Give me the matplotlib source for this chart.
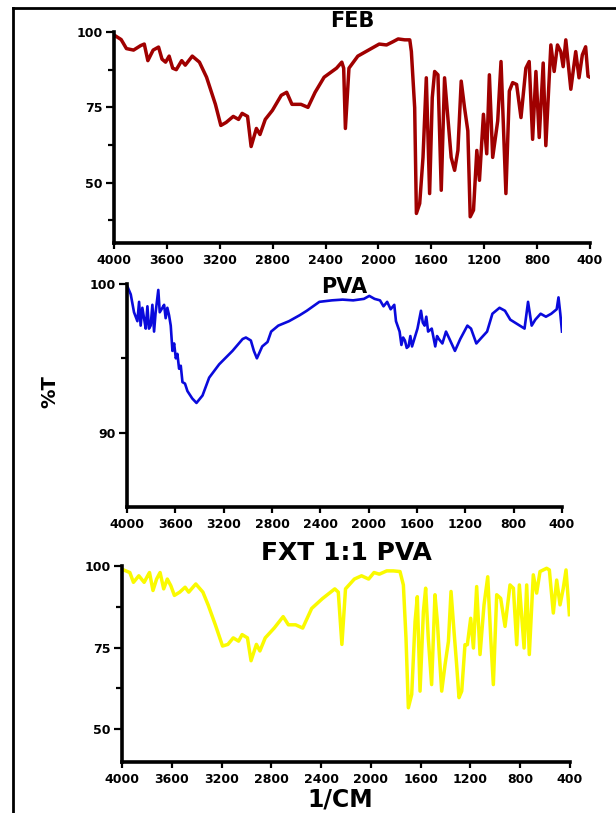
import matplotlib
matplotlib.use("Agg")
import matplotlib.pyplot as plt
from matplotlib.lines import Line2D

# ---------------- data ----------------
feb_wn = [4000, 3946, 3906, 3852, 3798, 3771, 3744, 3704, 3663, 3637, 3610, 3583, 3556, 3529,
          3488, 3461, 3408, 3354, 3300, 3233, 3192, 3152, 3098, 3058, 3031, 2990, 2963, 2923,
          2896, 2856, 2802, 2735, 2694, 2654, 2586, 2533, 2479, 2411, 2317, 2277, 2263, 2250,
          2223, 2156, 2075, 1994, 1939, 1889, 1851, 1801, 1763, 1751, 1726, 1713, 1688, 1663,
          1638, 1613, 1593, 1575, 1550, 1525, 1500, 1475, 1450, 1424, 1399, 1374, 1349, 1324,
          1306, 1281, 1256, 1236, 1206, 1181, 1161, 1136, 1098, 1073, 1036, 1010, 985, 955,
          922, 885, 860, 834, 809, 784, 754, 734, 696, 671, 646, 621, 603, 583, 545, 508,
          483, 458, 433, 415, 400]
feb_t = [99, 97.5, 94.5, 94, 95.5, 96, 90.5, 94, 95, 91, 90, 92, 88, 87.5,
         90.5, 89, 92, 90, 85, 76, 69, 70, 72, 71, 73, 72, 62, 68,
         66, 71, 74, 79, 80, 76, 76, 75, 80, 85, 88, 90, 88, 68,
         88, 92, 94, 96, 95.7, 96.8, 97.7, 97.4, 97.4, 93.5, 74.9, 39.8, 43.1, 58.4,
         84.8, 46.4, 78.2, 86.9, 85.8, 47.5, 84.8, 71.6, 58.4, 54.1, 60.7, 83.7, 74.9, 67.2,
         38.7, 40.9, 60.7, 50.8, 72.7, 59.6, 85.8, 58.4, 70.5, 90.2, 46.4, 80.4, 83.2, 82.6,
         71.6, 88.0, 90.2, 64.4, 86.9, 65.0, 89.7, 62.3, 95.7, 86.9, 95.7, 93.5, 88.5, 97.4, 81.0, 93.5,
         84.8, 92.4, 95.1, 85.3, 85]

pva_wn = [4000, 3969, 3942, 3914, 3900, 3887, 3873, 3859, 3845, 3831, 3818, 3804, 3790, 3776,
          3763, 3741, 3729, 3707, 3693, 3680, 3666, 3652, 3638, 3624, 3610, 3596, 3583, 3569,
          3555, 3541, 3520, 3500, 3460, 3425, 3375, 3320, 3237, 3127, 3043, 3016, 2975, 2950,
          2925, 2881, 2837, 2807, 2748, 2659, 2571, 2512, 2408, 2305, 2216, 2128, 2039, 1995,
          1951, 1906, 1877, 1847, 1818, 1788, 1774, 1744, 1729, 1715, 1700, 1685, 1670, 1655,
          1641, 1626, 1596, 1567, 1552, 1537, 1523, 1508, 1478, 1449, 1434, 1419, 1390, 1360,
          1331, 1286, 1242, 1183, 1153, 1109, 1065, 1020, 976, 917, 872, 828, 769, 710, 681,
          651, 621, 577, 533, 489, 444, 429, 414, 400]
pva_t = [99.9, 99.3, 98.1, 97.5, 98.8, 97.2, 98.4, 97.7, 97.0, 98.5, 97.0, 97.2, 98.6, 96.8,
         98.1, 99.6, 98.1, 98.4, 98.6, 97.7, 98.4, 97.9, 97.2, 95.5, 96.0, 95.0, 95.3, 94.3,
         94.5, 93.4, 93.3, 92.8, 92.3, 92.0, 92.5, 93.7, 94.6, 95.5, 96.3, 96.4, 96.2, 95.5,
         95.0, 95.8, 96.1, 96.8, 97.2, 97.5, 97.9, 98.2, 98.8, 98.9, 98.95, 98.9, 99.0, 99.2,
         99.0, 98.9, 98.5, 98.8, 98.3, 98.6, 97.5, 96.8, 95.9, 96.4, 96.2, 95.7, 95.8, 96.5,
         95.8, 96.2, 97.0, 98.2, 97.4, 97.2, 97.8, 96.8, 97.0, 95.8, 96.5, 96.3, 96.0, 96.8,
         96.3, 95.5, 96.3, 97.2, 97.0, 96.0, 96.4, 96.8, 98.0, 98.4, 98.2, 97.6, 97.3, 97.0, 98.8,
         97.2, 97.6, 98.0, 97.8, 98.0, 98.3, 99.1, 98.0, 96.8]

fxt_wn = [4000, 3937, 3908, 3865, 3822, 3794, 3779, 3751, 3722, 3694, 3665, 3636, 3608, 3579,
          3536, 3493, 3464, 3407, 3350, 3307, 3250, 3192, 3149, 3106, 3063, 3035, 2992, 2963,
          2920, 2892, 2849, 2777, 2705, 2663, 2605, 2548, 2476, 2390, 2290, 2262, 2233, 2204,
          2133, 2075, 2018, 1975, 1932, 1873, 1820, 1766, 1739, 1718, 1699, 1672, 1645, 1627,
          1605, 1578, 1560, 1539, 1512, 1485, 1466, 1450, 1431, 1404, 1377, 1356, 1332, 1311,
          1292, 1270, 1244, 1225, 1198, 1176, 1150, 1123, 1091, 1061, 1037, 1016, 989, 957,
          922, 882, 855, 828, 807, 769, 748, 727, 695, 668, 641, 588, 566, 534, 507, 480,
          454, 432, 405]
fxt_t = [99, 98, 95, 97, 95, 97, 98, 92.5, 96, 98, 93, 96, 94, 91,
         92, 93.5, 92, 94.5, 92, 88, 82, 75.5, 76, 78, 77, 79, 78, 71,
         76, 74, 78, 81, 84.5, 82, 82, 81, 87, 90, 93, 92, 76, 93,
         96, 97, 96, 98, 97.5, 98.5, 98.5, 98.3, 94.2, 78, 56.6, 60.7, 83.0, 90.6,
         61.7, 86.1, 93.2, 78.0, 63.7, 91.2, 83.0, 72.9, 61.7, 69.8, 76.9, 92.2, 80.0, 69.8,
         59.7, 61.7, 75.9, 75.9, 84.0, 74.9, 93.7, 72.9, 88.1, 96.7, 78.0, 63.7, 91.2, 90.1,
         81.5, 94.2, 93.2, 75.9, 94.2, 74.9, 94.2, 72.9, 97.3, 91.7, 98.3, 99.3, 98.8, 85.6, 95.7, 88.1,
         93.2, 98.8, 85.1]

x_ticks = [4000, 3600, 3200, 2800, 2400, 2000, 1600, 1200, 800, 400]

# ---------------- figure ----------------
W, H = 616, 813
fig = plt.figure(figsize=(W / 100, H / 100), dpi=100)
FONT = "DejaVu Sans"


def make_ax(left, right, top, bottom):
    return fig.add_axes([left / W, 1 - bottom / H, (right - left) / W, (bottom - top) / H])


def style(ax, ylim, major, minor):
    ax.set_xlim(4000, 400)
    ax.set_ylim(*ylim)
    ax.set_xticks(x_ticks)
    ax.set_yticks(major)
    ax.set_yticks(minor, minor=True)
    for s in ("top", "right"):
        ax.spines[s].set_visible(False)
    for s in ("left", "bottom"):
        ax.spines[s].set_linewidth(2.6)
    ax.tick_params(axis="x", which="major", length=4.5, width=1.6, pad=3.5,
                   direction="out")
    ax.tick_params(axis="y", which="major", length=6, width=1.6, pad=2,
                   direction="out")
    ax.tick_params(axis="y", which="minor", length=4.5, width=1.6, direction="out")
    ax.tick_params(axis="x", which="minor", bottom=False)
    for lab in ax.get_xticklabels() + ax.get_yticklabels():
        lab.set_fontfamily(FONT)
        lab.set_fontweight("bold")
        lab.set_fontsize(9)
    ax.patch.set_alpha(0)


ax1 = make_ax(114, 590, 32, 243)
ax1.plot(feb_wn, feb_t, color="#A00000", lw=2.5, solid_joinstyle="round")
style(ax1, (30, 100), [50, 75, 100], [37.5, 62.5, 87.5])

ax2 = make_ax(127, 562, 284, 507)
ax2.plot(pva_wn, pva_t, color="#0A0ADC", lw=1.9, solid_joinstyle="round")
style(ax2, (85, 100), [90, 100], [95])

ax3 = make_ax(122, 570, 566, 762)
ax3.plot(fxt_wn, fxt_t, color="#FAFA00", lw=2.5, solid_joinstyle="round")
style(ax3, (40, 100), [50, 75, 100], [62.5, 87.5])

# titles and labels
fig.text(352 / W, 1 - 21 / H, "FEB", ha="center", va="center", fontsize=15,
         fontweight="bold", family=FONT)
fig.text(344.5 / W, 1 - 287 / H, "PVA", ha="center", va="center", fontsize=15,
         fontweight="bold", family=FONT)
fig.text(346 / W, 1 - 553 / H, "FXT 1:1 PVA", ha="center", va="center", fontsize=18,
         fontweight="bold", family=FONT)
fig.text(340 / W, 1 - 799 / H, "1/CM", ha="center", va="center", fontsize=17,
         fontweight="bold", family=FONT)
fig.text(50 / W, 1 - 392 / H, "%T", ha="center", va="center", rotation=90, fontsize=14,
         fontweight="bold", family=FONT)

# outer frame (top and left)
fig.add_artist(Line2D([13 / W, 13 / W], [0, 1 - 8 / H], transform=fig.transFigure,
                      color="black", lw=2))
fig.add_artist(Line2D([13 / W, 1], [1 - 8 / H, 1 - 8 / H], transform=fig.transFigure,
                      color="black", lw=2))

fig.savefig("out.png", dpi=100)
